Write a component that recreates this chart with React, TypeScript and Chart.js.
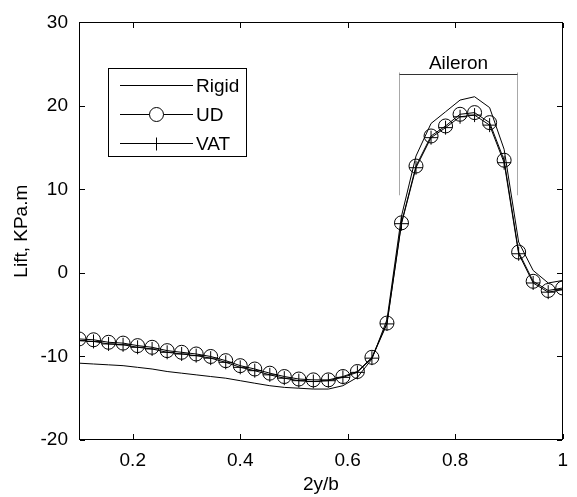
import React, { useEffect, useRef, useState } from "react";
import { Chart, registerables } from "chart.js";

Chart.register(...registerables);

// ---- data ----
const span = [
  0.1, 0.127, 0.155, 0.182, 0.209, 0.236, 0.264, 0.291, 0.318, 0.345, 0.373, 0.4,
  0.427, 0.455, 0.482, 0.509, 0.536, 0.564, 0.591, 0.618, 0.645, 0.673, 0.7, 0.727,
  0.755, 0.782, 0.809, 0.836, 0.864, 0.891, 0.918, 0.945, 0.973, 1.0,
];
const rigid = [
  -10.8, -10.9, -11.0, -11.1, -11.3, -11.5, -11.8, -12.0, -12.2, -12.4, -12.6, -12.9,
  -13.2, -13.5, -13.7, -13.8, -13.9, -13.9, -13.5, -12.5, -10.3, -5.6, 6.8, 14.0,
  17.9, 19.3, 20.7, 21.1, 19.8, 14.8, 3.7, 0.3, -1.2, -0.9,
];
const ud = [
  -7.9, -8.0, -8.3, -8.4, -8.7, -8.9, -9.3, -9.5, -9.7, -10.0, -10.5, -11.1,
  -11.5, -12.0, -12.4, -12.7, -12.8, -12.8, -12.4, -11.8, -10.1, -6.0, 6.0, 12.8,
  16.4, 17.6, 19.0, 19.2, 18.0, 13.5, 2.5, -1.0, -2.1, -1.8,
];
const vat = [
  -8.1, -8.2, -8.5, -8.6, -8.9, -9.1, -9.5, -9.7, -9.9, -10.2, -10.7, -11.3,
  -11.7, -12.2, -12.6, -12.9, -13.0, -12.9, -12.5, -11.9, -10.2, -6.1, 5.9, 12.6,
  16.2, 17.4, 18.7, 18.9, 17.7, 13.2, 2.3, -1.2, -2.3, -2.0,
];
const xTicks = [0.2, 0.4, 0.6, 0.8, 1];
const yTicks = [-20, -10, 0, 10, 20, 30];
const seriesLabels = ["Rigid", "UD", "VAT"];
const aileronLabel = "Aileron";
const aileronRange = [0.695, 0.915];
const aileronBar = 23.8;
const aileronGuideBottom = 9.3;

const FONT = '"Liberation Sans", Arial, sans-serif';
const FS = 19;

function seg(ctx: CanvasRenderingContext2D, x0: number, y0: number, x1: number, y1: number) {
  ctx.beginPath();
  ctx.moveTo(x0, y0);
  ctx.lineTo(x1, y1);
  ctx.stroke();
}

type Box = { left: number; top: number; width: number; height: number };

export default function App() {
  const ref = useRef<HTMLCanvasElement>(null);
  const [box, setBox] = useState<Box | null>(null);

  useEffect(() => {
    const canvas = ref.current!;

    const framePlugin = {
      id: "frameTicks",
      afterDraw(chart: any) {
        const ctx: CanvasRenderingContext2D = chart.ctx;
        const a = chart.chartArea;
        const xs = chart.scales.x;
        const ys = chart.scales.y;
        ctx.save();
        const L = Math.round(a.left);
        const R = Math.round(a.right) - 1;
        const T = Math.round(a.top);
        const B = Math.round(a.bottom) - 1;
        ctx.fillStyle = "#000000";
        ctx.fillRect(L, T, R - L + 1, 1);
        ctx.fillRect(L, B, R - L + 1, 1);
        ctx.fillRect(L, T, 1, B - T + 1);
        ctx.fillRect(R, T, 1, B - T + 1);
        const tl = 5;
        xTicks.forEach((v) => {
          const px = Math.round(xs.getPixelForValue(v));
          ctx.fillRect(px, B - tl, 1, tl);
          ctx.fillRect(px, T + 1, 1, tl);
        });
        yTicks.forEach((v) => {
          const py = Math.round(ys.getPixelForValue(v));
          ctx.fillRect(L + 1, py, tl, 1);
          ctx.fillRect(R - tl, py, tl, 1);
        });
        ctx.restore();
      },
    };

    const overlayPlugin = {
      id: "overlay",
      afterDraw(chart: any) {
        const ctx: CanvasRenderingContext2D = chart.ctx;
        const xs = chart.scales.x;
        const ys = chart.scales.y;
        ctx.save();
        ctx.lineWidth = 1;

        // aileron annotation
        const x0 = Math.round(xs.getPixelForValue(aileronRange[0])) + 0.5;
        const x1 = Math.round(xs.getPixelForValue(aileronRange[1])) + 0.5;
        const yb = Math.round(ys.getPixelForValue(aileronBar)) + 0.5;
        const yg = ys.getPixelForValue(aileronGuideBottom);
        ctx.strokeStyle = "#a8a8a8";
        seg(ctx, x0, yb - 2, x0, yg);
        seg(ctx, x1, yb - 2, x1, yg);
        ctx.strokeStyle = "#333333";
        seg(ctx, x0, yb, x1, yb);
        ctx.fillStyle = "#000000";
        ctx.font = `${FS}px ${FONT}`;
        ctx.textAlign = "center";
        ctx.textBaseline = "alphabetic";
        ctx.fillText(aileronLabel, (x0 + x1) / 2, yb - 6);

        // legend
        const bx = 108.5, by = 68.5, bw = 138, bh = 88;
        ctx.fillStyle = "#ffffff";
        ctx.fillRect(bx, by, bw, bh);
        ctx.strokeStyle = "#000000";
        ctx.strokeRect(bx, by, bw, bh);
        const rows = [85.5, 114.5, 143.5];
        const lx0 = 120, lx1 = 193, mx = 156.5;
        seriesLabels.forEach((lab, i) => {
          const y = rows[i];
          ctx.strokeStyle = "#000000";
          seg(ctx, lx0, y, lx1, y);
          if (i === 1) {
            ctx.beginPath();
            ctx.arc(mx, y, 7, 0, Math.PI * 2);
            ctx.fillStyle = "#ffffff";
            ctx.fill();
            ctx.stroke();
          } else if (i === 2) {
            seg(ctx, mx, y - 6, mx, y + 7);
            seg(ctx, mx - 5, y, mx + 7, y);
          }
          ctx.fillStyle = "#000000";
          ctx.font = `${FS}px ${FONT}`;
          ctx.textAlign = "left";
          ctx.textBaseline = "middle";
          ctx.fillText(lab, 196, y + 1);
        });
        ctx.restore();
      },
    };

    const chart = new Chart(canvas, {
      type: "line",
      data: {
        datasets: [
          {
            label: seriesLabels[0],
            data: span.map((x, i) => ({ x, y: rigid[i] })),
            borderColor: "#000",
            borderWidth: 1,
            pointRadius: 0,
            tension: 0,
          },
          {
            label: seriesLabels[1],
            data: span.map((x, i) => ({ x, y: ud[i] })),
            borderColor: "#000",
            borderWidth: 1,
            pointStyle: "circle",
            pointRadius: 7,
            pointBorderColor: "#000",
            pointBackgroundColor: "rgba(0,0,0,0)",
            pointBorderWidth: 1,
            tension: 0,
          },
          {
            label: seriesLabels[2],
            data: span.map((x, i) => ({ x, y: vat[i] })),
            borderColor: "#000",
            borderWidth: 1,
            pointStyle: "cross",
            pointRadius: 7,
            pointBorderColor: "#000",
            pointBorderWidth: 1,
            tension: 0,
          },
        ],
      },
      options: {
        responsive: false,
        animation: false,
        devicePixelRatio: 1,
        layout: { padding: { top: 19, right: 3, left: 0, bottom: 0 } },
        plugins: { legend: { display: false }, tooltip: { enabled: false } },
        scales: {
          x: {
            type: "linear",
            min: 0.1,
            max: 1,
            grid: { display: false, drawTicks: false },
            border: { display: false },
            afterBuildTicks: (s: any) => {
              s.ticks = xTicks.map((v) => ({ value: v }));
            },
            afterFit: (s: any) => {
              s.height = 57;
            },
            ticks: {
              color: "#000",
              font: { family: FONT, size: FS },
              padding: 9,
              maxRotation: 0,
              autoSkip: false,
              callback: (v: any) => String(Math.round(Number(v) * 10) / 10),
            },
            title: {
              display: true,
              text: "2y/b",
              color: "#000",
              font: { family: FONT, size: FS },
              padding: { top: 0, bottom: 1 },
            },
          },
          y: {
            type: "linear",
            min: -20,
            max: 30,
            grid: { display: false, drawTicks: false },
            border: { display: false },
            afterBuildTicks: (s: any) => {
              s.ticks = yTicks.map((v) => ({ value: v }));
            },
            afterFit: (s: any) => {
              s.width = 79;
            },
            ticks: {
              color: "#000",
              font: { family: FONT, size: FS },
              padding: 11,
              autoSkip: false,
              callback: (v: any) => String(v),
            },
            title: {
              display: true,
              text: "Lift, KPa.m",
              color: "#000",
              font: { family: FONT, size: FS },
              padding: { top: 10, bottom: 0 },
            },
          },
        },
      },
      plugins: [framePlugin, overlayPlugin],
    } as any);

    const a = chart.chartArea;
    setBox({
      left: Math.round(a.left),
      top: Math.round(a.top),
      width: Math.round(a.right) - Math.round(a.left),
      height: Math.round(a.bottom) - Math.round(a.top),
    });

    return () => chart.destroy();
  }, []);

  return (
    <div
      style={{
        position: "fixed",
        left: 0,
        top: 0,
        width: 577,
        height: 497,
        background: "#fff",
        overflow: "hidden",
      }}
    >
      <canvas ref={ref} width={577} height={497} style={{ display: "block" }} />
      {box && (
        <div
          style={{
            position: "absolute",
            left: box.left,
            top: box.top,
            width: box.width,
            height: box.height,
            border: "1px solid #000",
            boxSizing: "border-box",
            pointerEvents: "none",
          }}
        />
      )}
    </div>
  );
}
